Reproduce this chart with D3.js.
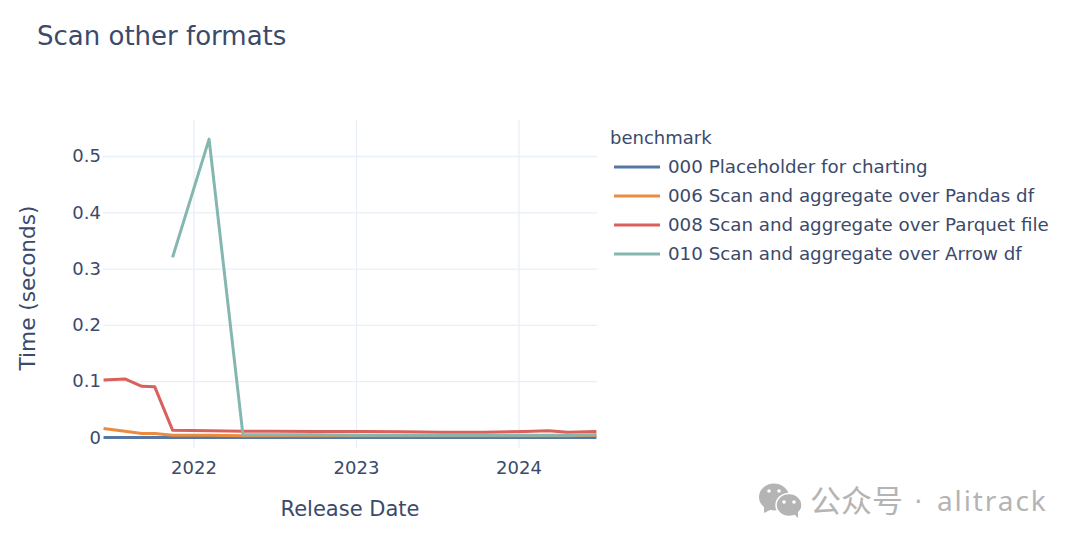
<!DOCTYPE html>
<html><head><meta charset="utf-8">
<script src="https://cdn.jsdelivr.net/npm/d3@7"></script>
<style>html,body{margin:0;padding:0;background:#fff}svg{display:block}text{font-family:"DejaVu Sans",Verdana,sans-serif;fill:#3b4a6b}</style>
</head><body><svg id="c" width="1080" height="545"></svg>
<script>
const titleText = "Scan other formats";
const xTitle = "Release Date";
const yTitle = "Time (seconds)";
const legendTitle = "benchmark";
const names = ["000 Placeholder for charting","006 Scan and aggregate over Pandas df","008 Scan and aggregate over Parquet file","010 Scan and aggregate over Arrow df"];
const colors = ["#5577a6","#e98c3f","#d8605d","#85b7b1"];
const dates = ["2021-06-13","2021-07-31","2021-09-07","2021-10-06","2021-11-15","2022-02-05","2022-04-22","2022-07-01","2022-10-01","2023-01-15","2023-04-15","2023-07-15","2023-10-15","2024-01-15","2024-03-08","2024-04-20","2024-06-24"];
const placeholder = [0,0,0,0,0,0,0,0,0,0,0,0,0,0,0,0,0];
const pandas = [0.016,0.011,0.007,0.007,0.004,0.004,0.003,0.003,0.003,0.003,0.003,0.003,0.003,0.003,0.003,0.003,0.004];
const parquet = [0.102,0.104,0.091,0.090,0.013,0.012,0.011,0.011,0.0105,0.0105,0.0100,0.0095,0.0095,0.0105,0.012,0.0095,0.0105];
const arrow = [null,null,null,null,0.32,0.53,0.005,0.005,0.005,0.004,0.004,0.004,0.004,0.004,0.004,0.004,0.005];
const series = [placeholder,pandas,parquet,arrow];
const xTicks = ["2022-01-01","2023-01-01","2024-01-01"];
const yTicks = [0,0.1,0.2,0.3,0.4,0.5];

const parse = d3.utcParse("%Y-%m-%d");
const m = {l:103,r:597,t:120,b:448};
const x = d3.scaleUtc().domain([parse("2022-01-01"),parse("2024-01-01")]).range([193.5,518.5]);
const y = d3.scaleLinear().domain([0,0.5]).range([437.5,156]);
const svg = d3.select("#c");

const gx = svg.append("g").attr("transform",`translate(0,${m.b})`)
  .call(d3.axisBottom(x).tickValues(xTicks.map(parse)).tickFormat(d3.utcFormat("%Y")).tickSize(-(m.b-m.t)).tickPadding(13));
gx.select(".domain").remove();
gx.selectAll("line").attr("stroke","#e9eff8").attr("stroke-width",1.3);
gx.selectAll("text").attr("font-size",18).style("fill","#3b4a6b");
const gy = svg.append("g").attr("transform",`translate(${m.l},0)`)
  .call(d3.axisLeft(y).tickValues(yTicks).tickFormat(d=>d===0?"0":d3.format(".1f")(d)).tickSize(-(m.r-m.l)).tickPadding(2));
gy.select(".domain").remove();
gy.selectAll("line").attr("stroke","#e9eff8").attr("stroke-width",1.3);
gy.selectAll("text").attr("font-size",18).style("fill","#3b4a6b");

const line = d3.line().defined(d=>d.v!==null).x(d=>x(d.d)).y(d=>y(d.v));
svg.append("clipPath").attr("id","p").append("rect").attr("x",m.l).attr("y",m.t).attr("width",m.r-m.l).attr("height",m.b-m.t);
series.forEach((s,i)=>{
  svg.append("path").datum(s.map((v,j)=>({d:parse(dates[j]),v})))
    .attr("clip-path","url(#p)").attr("fill","none").attr("stroke",colors[i]).attr("stroke-width",3)
    .attr("stroke-linejoin","round").attr("d",line);
});

svg.append("text").attr("x",37).attr("y",45).attr("font-size",26).text(titleText);
svg.append("text").attr("x",350).attr("y",516).attr("text-anchor","middle").attr("font-size",21).text(xTitle);
svg.append("text").attr("transform","translate(35,288) rotate(-90)").attr("text-anchor","middle").attr("font-size",21.6).text(yTitle);

svg.append("text").attr("x",610).attr("y",144).attr("font-size",18).text(legendTitle);
const leg = d3.scalePoint().domain(names).range([167,254]);
names.forEach((n,i)=>{
  svg.append("line").attr("x1",614).attr("x2",660).attr("y1",leg(n)).attr("y2",leg(n)).attr("stroke",colors[i]).attr("stroke-width",3);
  svg.append("text").attr("x",668).attr("y",leg(n)+6).attr("font-size",18.25).text(n);
});

// watermark
const wm = svg.append("g");
const mark = "#b4b4b4";
wm.append("ellipse").attr("cx",774).attr("cy",497).attr("rx",15).attr("ry",13.5).attr("fill",mark);
wm.append("path").attr("d","M764,506 l0,7 l8,-4 z").attr("fill",mark);
wm.append("ellipse").attr("cx",789).attr("cy",505).attr("rx",13).attr("ry",11.5).attr("fill",mark).attr("stroke","#fff").attr("stroke-width",1.5);
wm.append("path").attr("d","M794,514 l4,4 l0,-7 z").attr("fill",mark);
[[769,491],[779,491],[784,502],[794,502]].forEach(p=>wm.append("circle").attr("cx",p[0]).attr("cy",p[1]).attr("r",1.8).attr("fill","#fff"));
wm.append("text").attr("x",810).attr("y",512).attr("font-size",31).style("font-family","'Noto Sans CJK SC'").style("fill",mark).text("公众号");
wm.append("text").attr("x",914).attr("y",511).attr("font-size",27).style("fill",mark).text("·");
wm.append("text").attr("x",937).attr("y",511).attr("font-size",28).style("font-family","'Noto Sans'").style("letter-spacing","1.9px").style("fill",mark).text("alitrack");
</script></body></html>
